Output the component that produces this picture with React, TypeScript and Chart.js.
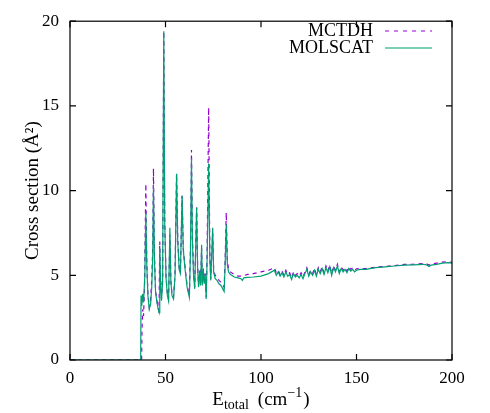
import React, { useEffect, useRef } from "react";
import { Chart, registerables } from "chart.js";

Chart.register(...registerables);

const FONT = '"Liberation Serif", "DejaVu Serif", serif';

// MOLSCAT: total energy (cm^-1) and cross section (Å^2)
const molscatE = [
  0, 37.0, 37.2, 37.6, 38.0, 38.5, 39.2, 39.7, 40.2, 40.8,
  41.5, 42.2, 42.8, 43.3, 43.7, 44.2, 44.8, 45.5, 46.2, 46.6,
  47.0, 47.4, 47.9, 48.5, 49.1, 49.6, 50.3, 51.0, 51.6, 52.3,
  52.8, 53.4, 54.2, 55.0, 55.8, 56.4, 57.2, 57.8, 58.7, 59.3,
  60.3, 61.3, 62.5, 63.1, 63.6, 64.1, 64.7, 65.3, 66.3, 66.8,
  67.3, 67.9, 68.4, 68.9, 69.3, 69.8, 70.3, 70.8, 71.3, 71.8,
  72.6, 73.2, 73.7, 74.7, 75.2, 76.0, 77.0, 78.0, 79.0, 80.0,
  80.7, 81.2, 81.8, 82.4, 83.0, 84.0, 86.0, 88.0, 89.5, 90.2,
  91.0, 93.0, 96.0, 100, 104, 107, 108, 109, 110, 111,
  112, 113, 114, 115, 116, 117, 118, 119, 120, 121,
  122, 123, 124, 125, 126, 127, 128, 129, 130, 131,
  132, 133, 134, 135, 136, 137, 138, 139, 140, 141,
  142, 143, 144, 145, 146, 147, 148, 149, 150, 152,
  155, 160, 165, 170, 175, 180, 185, 187, 188, 189,
  192, 195, 198, 200,
];
const molscatSigma = [
  0, 0, 3.8, 3.2, 3.9, 3.4, 5.0, 8.7, 5.6, 3.8,
  3.0, 3.3, 4.3, 6.0, 10.2, 6.0, 4.0, 3.4, 3.0, 2.8,
  6.6, 4.6, 3.5, 4.6, 19.4, 8.0, 4.8, 3.8, 3.5, 7.8,
  4.6, 3.8, 3.6, 5.0, 11.0, 7.0, 5.3, 5.1, 9.7, 6.5,
  5.3, 4.3, 3.7, 6.5, 11.9, 7.0, 5.0, 4.2, 9.0, 5.5,
  4.3, 5.2, 4.4, 6.8, 4.4, 5.3, 4.5, 5.0, 3.6, 6.0,
  11.6, 6.0, 4.7, 7.8, 5.2, 4.8, 4.7, 4.5, 4.4, 4.2,
  4.05, 5.5, 8.0, 5.6, 5.2, 5.05, 4.9, 4.85, 4.8, 4.7,
  4.85, 4.88, 4.9, 4.95, 5.1, 5.3, 5.0, 5.2, 4.95, 5.15,
  4.9, 5.2, 4.95, 5.05, 4.75, 5.1, 4.9, 5.0, 4.85, 5.05,
  4.8, 5.1, 5.35, 4.95, 5.2, 5.0, 5.3, 4.95, 5.35, 5.1,
  5.4, 5.05, 5.45, 5.15, 5.5, 5.0, 5.45, 5.2, 5.55, 5.1,
  5.4, 5.2, 5.35, 5.15, 5.4, 5.25, 5.35, 5.2, 5.3, 5.35,
  5.35, 5.45, 5.5, 5.55, 5.6, 5.62, 5.65, 5.6, 5.52, 5.6,
  5.65, 5.72, 5.75, 5.72,
];

// MCTDH: total energy (cm^-1) and cross section (Å^2)
const mctdhE = [
  0, 37.5, 37.7, 38.1, 38.5, 39.0, 39.7, 40.2, 40.8, 41.5,
  42.2, 42.8, 43.3, 43.7, 44.2, 44.8, 45.5, 46.2, 46.6, 47.0,
  47.4, 47.9, 48.5, 49.1, 49.6, 50.3, 51.0, 51.6, 52.3, 52.8,
  53.4, 54.2, 55.0, 55.8, 56.4, 57.2, 57.8, 58.7, 59.3, 60.3,
  61.3, 62.5, 63.1, 63.6, 64.1, 64.7, 65.3, 66.3, 66.8, 67.3,
  67.9, 68.4, 68.9, 69.3, 69.8, 70.3, 70.8, 71.3, 71.8, 72.6,
  73.2, 73.7, 74.7, 75.2, 76.0, 77.0, 78.0, 79.0, 80.0, 80.7,
  81.2, 81.8, 82.4, 83.0, 84.0, 86.0, 88.0, 90.0, 93.0, 96.0,
  100, 104, 107, 108, 109, 110, 111, 112, 113, 114,
  115, 116, 117, 118, 119, 120, 121, 122, 123, 124,
  125, 126, 127, 128, 129, 130, 131, 132, 133, 134,
  135, 136, 137, 138, 139, 140, 141, 142, 143, 144,
  145, 146, 147, 148, 149, 150, 152, 155, 160, 165,
  170, 175, 180, 185, 187, 188, 189, 192, 195, 198,
  200,
];
const mctdhSigma = [
  0, 0, 1.8, 3.0, 2.6, 4.2, 10.4, 5.8, 3.9, 3.1,
  3.5, 4.8, 6.5, 11.3, 6.2, 4.1, 3.5, 3.1, 2.9, 7.0,
  4.8, 3.6, 4.8, 19.4, 8.2, 4.9, 3.9, 3.6, 7.4, 4.7,
  3.9, 3.7, 5.1, 11.0, 7.2, 5.4, 5.2, 9.7, 6.6, 5.4,
  4.4, 3.8, 6.8, 12.4, 7.2, 5.1, 4.3, 9.0, 5.6, 4.4,
  5.3, 4.5, 6.6, 4.5, 5.4, 4.6, 5.1, 3.7, 6.5, 14.9,
  6.3, 4.8, 7.5, 5.3, 5.0, 4.9, 4.7, 4.6, 4.4, 4.3,
  5.8, 8.7, 5.8, 5.4, 5.2, 5.05, 4.95, 4.95, 5.05, 5.1,
  5.2, 5.3, 5.45, 5.15, 5.3, 5.05, 5.25, 5.0, 5.3, 5.05,
  5.15, 4.85, 5.2, 5.0, 5.1, 4.95, 5.15, 4.9, 5.2, 5.45,
  5.05, 5.3, 5.1, 5.4, 5.05, 5.45, 5.2, 5.5, 5.15, 5.55,
  5.25, 5.6, 5.1, 5.55, 5.3, 5.65, 5.2, 5.5, 5.3, 5.45,
  5.25, 5.5, 5.35, 5.45, 5.3, 5.38, 5.4, 5.4, 5.48, 5.52,
  5.58, 5.64, 5.66, 5.7, 5.66, 5.6, 5.66, 5.72, 5.78, 5.8,
  5.76,
];

const xTicks = [0, 50, 100, 150, 200];
const yTicks = [0, 5, 10, 15, 20];
const seriesLabels = ["MCTDH", "MOLSCAT"];
const seriesColors = ["#9400D3", "#009E73"];

const framePlugin = {
  id: "gnuplotFrame",
  afterDraw(chart: any) {
    const { ctx, chartArea, scales } = chart;
    const { left, right, top, bottom } = chartArea;
    ctx.save();
    ctx.strokeStyle = "#000";
    ctx.lineWidth = 1.2;
    ctx.setLineDash([]);
    ctx.strokeRect(left, top, right - left, bottom - top);
    const tl = 6;
    ctx.beginPath();
    for (const v of xTicks) {
      const px = scales.x.getPixelForValue(v);
      ctx.moveTo(px, bottom);
      ctx.lineTo(px, bottom - tl);
      ctx.moveTo(px, top);
      ctx.lineTo(px, top + tl);
    }
    for (const v of yTicks) {
      const py = scales.y.getPixelForValue(v);
      ctx.moveTo(left, py);
      ctx.lineTo(left + tl, py);
      ctx.moveTo(right, py);
      ctx.lineTo(right - tl, py);
    }
    ctx.stroke();

    // legend
    ctx.fillStyle = "#000";
    ctx.font = `18px ${FONT}`;
    ctx.textAlign = "right";
    ctx.textBaseline = "middle";
    const ly = [31, 48];
    seriesLabels.forEach((lab, i) => {
      ctx.fillText(lab, 373, ly[i]);
      ctx.beginPath();
      ctx.strokeStyle = seriesColors[i];
      ctx.lineWidth = 1.2;
      ctx.setLineDash(i === 0 ? [4, 5] : []);
      ctx.moveTo(385, ly[i]);
      ctx.lineTo(432, ly[i]);
      ctx.stroke();
    });
    ctx.setLineDash([]);

    // x title: E_total (cm^-1)
    const big = `19px ${FONT}`;
    const small = `14px ${FONT}`;
    const parts = [
      { t: "E", f: big, dy: 0, gap: 0 },
      { t: "total", f: small, dy: 4, gap: 0 },
      { t: "(cm", f: big, dy: 0, gap: 9 },
      { t: "\u22121", f: small, dy: -8, gap: 0 },
      { t: ")", f: big, dy: 0, gap: 1 },
    ];
    let w = 0;
    for (const p of parts) {
      ctx.font = p.f;
      w += ctx.measureText(p.t).width + p.gap;
    }
    let x = (left + right) / 2 - w / 2;
    const base = 405;
    ctx.textAlign = "left";
    ctx.textBaseline = "alphabetic";
    for (const p of parts) {
      ctx.font = p.f;
      x += p.gap;
      ctx.fillText(p.t, x, base + p.dy);
      x += ctx.measureText(p.t).width;
    }

    // y title
    ctx.save();
    ctx.translate(38, (top + bottom) / 2);
    ctx.rotate(-Math.PI / 2);
    ctx.font = big;
    ctx.textAlign = "center";
    ctx.textBaseline = "alphabetic";
    ctx.fillText("Cross section (\u00C5\u00B2)", 0, 0);
    ctx.restore();
    ctx.restore();
  },
};

export default function App() {
  const ref = useRef<HTMLCanvasElement>(null);
  useEffect(() => {
    if (!ref.current) return;
    const chart = new Chart(ref.current, {
      type: "line",
      data: {
        datasets: [
          {
            label: seriesLabels[0],
            data: mctdhE.map((e, i) => ({ x: e, y: mctdhSigma[i] })),
            borderColor: seriesColors[0],
            borderWidth: 1.2,
            borderDash: [4, 4],
            pointRadius: 0,
            fill: false,
            tension: 0,
            order: 2,
          },
          {
            label: seriesLabels[1],
            data: molscatE.map((e, i) => ({ x: e, y: molscatSigma[i] })),
            borderColor: seriesColors[1],
            borderWidth: 1.2,
            pointRadius: 0,
            fill: false,
            tension: 0,
            order: 1,
          },
        ],
      },
      options: {
        animation: false,
        responsive: false,
        layout: { padding: { left: 0, right: 38, top: 16, bottom: 0 } },
        plugins: { legend: { display: false }, tooltip: { enabled: false } },
        scales: {
          x: {
            type: "linear",
            min: 0,
            max: 200,
            grid: { display: false, drawTicks: false, tickLength: 0 },
            border: { display: false },
            ticks: {
              stepSize: 50,
              color: "#000",
              font: { family: FONT, size: 17 },
              padding: 8,
              maxRotation: 0,
            },
            afterFit: (s: any) => {
              s.height = 53;
            },
          },
          y: {
            min: 0,
            max: 20,
            grid: { display: false, drawTicks: false, tickLength: 0 },
            border: { display: false },
            ticks: {
              stepSize: 5,
              color: "#000",
              font: { family: FONT, size: 17 },
              padding: 11,
            },
            afterFit: (s: any) => {
              s.width = 70;
            },
          },
        },
      },
      plugins: [framePlugin],
    } as any);
    return () => chart.destroy();
  }, []);
  return (
    <div style={{ position: "absolute", left: 0, top: 0, width: 490, height: 413, background: "#fff" }}>
      <canvas ref={ref} width={490} height={413} />
    </div>
  );
}
